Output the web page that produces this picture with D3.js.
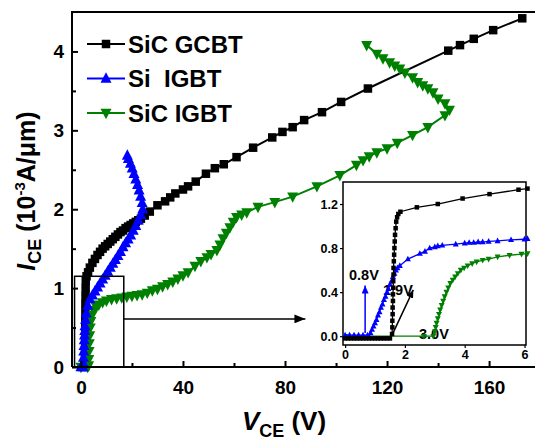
<!DOCTYPE html>
<html><head><meta charset="utf-8">
<script src="https://cdn.jsdelivr.net/npm/d3@7"></script>
<style>
html,body{margin:0;padding:0;background:#fff;}
svg{display:block;font-family:"Liberation Sans",Arial,sans-serif;font-weight:bold;}
</style></head>
<body><svg id="c" width="535" height="441"></svg>
<script>
// ---------- data (main plot) ----------
const gcbtV = [1.6,1.6,1.6,1.65,1.7,1.7,1.7,1.75,1.75,1.8,1.85,1.9,2.2,2.8,3.5,4.5,5.5,6.5,7.5,8.5,9.5,10.5,11.5,12.5,13.5,14.5,15.5,16.5,17.5,18.5,19.5,20.5,21.5,22.5,23.5,25,27,30,33,35,37,40,42,45,49,52.5,56,61,67.5,75,79,83,87.5,94.5,102,112.5,144,148.6,154,161.6,173];
const gcbtI = [0,0.1,0.2,0.3,0.4,0.5,0.6,0.7,0.8,0.9,1.0,1.1,1.15,1.2,1.26,1.32,1.37,1.42,1.46,1.5,1.53,1.56,1.59,1.62,1.65,1.68,1.71,1.73,1.76,1.78,1.8,1.82,1.84,1.86,1.88,1.92,1.97,2.05,2.1,2.15,2.2,2.25,2.29,2.35,2.45,2.52,2.57,2.66,2.78,2.91,2.98,3.04,3.13,3.23,3.36,3.53,4.01,4.08,4.16,4.27,4.42];

const siV = [0,0.8,0.9,1.0,1.1,1.2,1.3,1.4,1.5,1.6,1.8,2.1,2.7,3.5,4.5,5.5,6.5,7.5,8.5,9.5,10.5,11.5,12.5,13.5,14.5,15.5,16.5,17.5,18.5,19.5,20.5,21.5,22.5,23.5,24.2,24,23.4,22.8,22.2,21.5,20.8,20.1,19.4,18.6,18.2];
const siI = [0,0,0.05,0.12,0.2,0.27,0.34,0.4,0.46,0.52,0.6,0.68,0.78,0.86,0.91,0.96,1.01,1.06,1.11,1.16,1.21,1.26,1.31,1.36,1.41,1.46,1.52,1.57,1.62,1.67,1.73,1.79,1.86,1.93,2.0,2.08,2.16,2.24,2.31,2.38,2.45,2.52,2.58,2.64,2.68];

const sicV = [0,2.6,3.0,3.1,3.2,3.3,3.45,3.65,3.9,4.4,5,6,7,8.5,10,12,14,16,18,20,22,24,26,28,30,32,34,36,38,40,42,44.7,47,49.4,51,53.3,54.5,55.7,57,58.4,59.7,61,63,65,69.4,76,83,92.5,101.5,108,110.6,113,116,120,124,130,136,142.7,144.5,142.7,140,138,136,134,132,130,127,125,123,121,118.4,116,112];
const sicI = [0,0,0.02,0.1,0.2,0.3,0.4,0.5,0.58,0.66,0.72,0.76,0.79,0.82,0.84,0.86,0.87,0.88,0.89,0.9,0.91,0.92,0.94,0.97,0.99,1.02,1.05,1.08,1.12,1.16,1.2,1.28,1.34,1.39,1.43,1.48,1.55,1.63,1.7,1.77,1.84,1.9,1.93,1.96,2.03,2.09,2.16,2.29,2.43,2.56,2.62,2.67,2.72,2.77,2.84,2.94,3.04,3.19,3.26,3.34,3.4,3.48,3.53,3.57,3.61,3.67,3.73,3.78,3.82,3.86,3.91,3.97,4.08];

// ---------- data (inset) ----------
const inGcbtV = [0,0.1,0.2,0.3,0.4,0.5,0.6,0.7,0.8,0.9,1.0,1.1,1.2,1.3,1.4,1.5,1.57,1.58,1.58,1.59,1.59,1.6,1.6,1.61,1.61,1.62,1.62,1.63,1.64,1.65,1.66,1.67,1.69,1.71,1.74,1.78,1.85,2.4,3.1,3.93,4.83,5.8,6.1];
const inGcbtI = [-0.02,-0.02,-0.02,-0.02,-0.02,-0.02,-0.02,-0.02,-0.02,-0.02,-0.02,-0.02,-0.02,-0.02,-0.02,-0.02,0.02,0.08,0.14,0.2,0.26,0.32,0.38,0.44,0.5,0.56,0.62,0.68,0.74,0.8,0.86,0.92,0.98,1.04,1.08,1.11,1.13,1.17,1.2,1.25,1.29,1.33,1.34];

const inSiV = [0,0.15,0.3,0.45,0.6,0.75,0.8,0.85,0.9,0.95,1.0,1.05,1.1,1.15,1.2,1.25,1.3,1.35,1.4,1.45,1.5,1.55,1.6,1.65,1.7,1.75,1.83,2.1,2.5,2.67,2.83,3.0,3.1,3.25,3.7,4.0,4.15,4.3,4.45,4.6,4.8,5.1,5.55,6.0,6.1];
const inSiI = [0.01,0.01,0.01,0.01,0.01,0.01,-0.01,0.03,0.06,0.09,0.12,0.15,0.19,0.22,0.26,0.29,0.33,0.36,0.4,0.43,0.47,0.5,0.54,0.57,0.6,0.62,0.64,0.7,0.75,0.77,0.8,0.81,0.82,0.825,0.835,0.845,0.85,0.85,0.855,0.855,0.86,0.865,0.875,0.88,0.885];

const inSicV = [0,2.63,2.95,3.0,3.03,3.06,3.1,3.14,3.18,3.23,3.28,3.33,3.39,3.45,3.52,3.6,3.68,3.77,3.87,3.98,4.1,4.25,4.4,4.6,4.8,5.1,5.5,5.9,6.1];
const inSicI = [0,0,0,0.04,0.08,0.12,0.16,0.2,0.24,0.28,0.32,0.36,0.4,0.44,0.48,0.51,0.54,0.57,0.6,0.62,0.64,0.66,0.675,0.69,0.7,0.72,0.735,0.745,0.75];

// ---------- ticks / labels ----------
const xTicks = [0,40,80,120,160];
const xMinor = [20,60,100,140];
const yTicks = [0,1,2,3,4];
const yMinor = [0.5,1.5,2.5,3.5];
const inXTicks = [0,2,4,6];
const inYTicks = [0.0,0.4,0.8,1.2];
const seriesNames = ["SiC GCBT","Si\u00a0\u00a0IGBT","SiC IGBT"];
const colors = ["#000000","#0000ff","#008000"];

const svg = d3.select("#c");
const zip = (a,b)=>a.map((v,i)=>[v,b[i]]);

const x = d3.scaleLinear().domain([-3.5,178]).range([72,535]);
const y = d3.scaleLinear().domain([0,4.5]).range([367,12]);

function markerPath(type, s){
  if(type==="sq") return `M${-s/2},${-s/2}h${s}v${s}h${-s}Z`;
  const h = s*0.95, w = s/2;
  if(type==="up") return `M0,${-h*0.6}L${w},${h*0.4}L${-w},${h*0.4}Z`;
  return `M0,${h*0.6}L${w},${-h*0.4}L${-w},${-h*0.4}Z`;
}
function drawSeries(g, xs, ys, pts, color, type, lw, ms){
  g.append("path").datum(pts)
    .attr("d", d3.line().x(d=>xs(d[0])).y(d=>ys(d[1])))
    .attr("fill","none").attr("stroke",color).attr("stroke-width",lw);
  g.selectAll(null).data(pts).enter().append("path")
    .attr("transform",d=>`translate(${xs(d[0])},${ys(d[1])})`)
    .attr("d",markerPath(type,ms)).attr("fill",color);
}

// defs for arrows
const defs = svg.append("defs");
function arrowDef(id,color,w,h){
  defs.append("marker").attr("id",id).attr("viewBox",`0 0 ${w} ${h}`)
    .attr("refX",w).attr("refY",h/2).attr("markerWidth",w).attr("markerHeight",h)
    .attr("markerUnits","userSpaceOnUse").attr("orient","auto")
    .append("path").attr("d",`M0,0L${w},${h/2}L0,${h}Z`).attr("fill",color);
}
arrowDef("ahBlack",colors[0],11,9);
arrowDef("ahSmallBlack",colors[0],8,7);
arrowDef("ahSmallBlue",colors[1],8,7);

// ---------- main series ----------
const gm = svg.append("g");
drawSeries(gm,x,y,zip(gcbtV,gcbtI),colors[0],"sq",2,8.5);
drawSeries(gm,x,y,zip(sicV,sicI),colors[2],"down",2,11);
drawSeries(gm,x,y,zip(siV,siI),colors[1],"up",2,11);

// axes
const ax = svg.append("g").attr("transform","translate(0,367)");
ax.call(d3.axisBottom(x).tickValues(xTicks).tickSize(-6).tickSizeOuter(0).tickPadding(14));
ax.append("g").call(d3.axisBottom(x).tickValues(xMinor).tickSize(-4).tickFormat(""));
ax.selectAll(".domain").attr("stroke-width",2).attr("d","M72,0H535");
const ay = svg.append("g").attr("transform","translate(72,0)");
ay.call(d3.axisLeft(y).tickValues(yTicks).tickSize(-6).tickSizeOuter(0).tickPadding(8).tickFormat(d3.format("d")));
ay.append("g").call(d3.axisLeft(y).tickValues(yMinor).tickSize(-4).tickFormat(""));
ay.selectAll(".domain").attr("stroke-width",2).attr("d","M0,12V367");
svg.selectAll(".tick line").attr("stroke-width",2);
ax.selectAll(".tick text").attr("font-size",19).attr("font-family","Liberation Sans, Arial, sans-serif").attr("font-weight","bold").attr("fill","#000");
ay.selectAll(".tick text").attr("font-size",19).attr("font-family","Liberation Sans, Arial, sans-serif").attr("font-weight","bold").attr("fill","#000");
svg.append("line").attr("x1",71).attr("x2",535).attr("y1",12).attr("y2",12).attr("stroke","#000").attr("stroke-width",2);

// axis titles
const xt = svg.append("text").attr("x",284).attr("y",430).attr("text-anchor","middle").attr("font-size",26);
xt.append("tspan").attr("font-style","italic").text("V");
xt.append("tspan").attr("font-size",18).attr("dy",7).text("CE");
xt.append("tspan").attr("dy",-7).text(" (V)");
const yt = svg.append("text").attr("transform","translate(35,191) rotate(-90)").attr("text-anchor","middle").attr("font-size",25);
yt.append("tspan").attr("font-style","italic").text("I");
yt.append("tspan").attr("font-size",18).attr("dy",6).text("CE");
yt.append("tspan").attr("dy",-6).text(" (10");
yt.append("tspan").attr("font-size",15).attr("dy",-10).text("-3");
yt.append("tspan").attr("dy",10).text("A/\u03bcm)");

// legend
const legTypes = ["sq","up","down"];
const legSizes = [8.5,11,11];
seriesNames.forEach((n,i)=>{
  const yy = 44 + i*34.5;
  svg.append("line").attr("x1",87).attr("x2",125).attr("y1",yy).attr("y2",yy).attr("stroke",colors[i]).attr("stroke-width",2);
  svg.append("path").attr("transform",`translate(106,${yy})`).attr("d",markerPath(legTypes[i],legSizes[i])).attr("fill",colors[i]);
  svg.append("text").attr("x",128).attr("y",yy+8.5).attr("font-size",24).attr("xml:space","preserve").text(n);
});

// zoom box and arrow
svg.append("rect").attr("x",x(-2.5)).attr("y",y(1.15)).attr("width",x(16.8)-x(-2.5)).attr("height",y(0)-y(1.15))
  .attr("fill","none").attr("stroke","#000").attr("stroke-width",1.5);
svg.append("line").attr("x1",x(16.8)).attr("x2",x(88)).attr("y1",y(0.61)).attr("y2",y(0.61))
  .attr("stroke","#000").attr("stroke-width",1.5).attr("marker-end","url(#ahBlack)");

// ---------- inset ----------
const xi = d3.scaleLinear().domain([-0.07,6.05]).range([343,526]);
const yi = d3.scaleLinear().domain([-0.08,1.4]).range([345,182]);
svg.append("rect").attr("x",343).attr("y",182).attr("width",183).attr("height",163)
  .attr("fill","#fff").attr("stroke","#000").attr("stroke-width",1.5);
const gi = svg.append("g");
const ixa = gi.append("g").attr("transform","translate(0,345)")
  .call(d3.axisBottom(xi).tickValues(inXTicks).tickSize(3).tickSizeOuter(0).tickPadding(2).tickFormat(d3.format("d")));
const iya = gi.append("g").attr("transform","translate(343,0)")
  .call(d3.axisLeft(yi).tickValues(inYTicks).tickSize(3).tickSizeOuter(0).tickPadding(2).tickFormat(d3.format(".1f")));
gi.selectAll(".domain").remove();
gi.selectAll(".tick text").attr("font-size",12.5).attr("font-family","Liberation Sans, Arial, sans-serif").attr("font-weight","bold").attr("fill","#000");
gi.selectAll(".tick line").attr("stroke-width",1.2);

// inset annotations (behind data)
svg.append("text").attr("x",349).attr("y",280).attr("font-size",14.5).text("0.8V");
svg.append("text").attr("x",383).attr("y",295).attr("font-size",14.5).text("1.9V");
svg.append("text").attr("x",419).attr("y",339).attr("font-size",14.5).text("3.0V");

const gd = svg.append("g");
drawSeries(gd,xi,yi,zip(inSicV,inSicI),colors[2],"down",1.3,6);
drawSeries(gd,xi,yi,zip(inSiV,inSiI),colors[1],"up",1.3,6);
drawSeries(gd,xi,yi,zip(inGcbtV,inGcbtI),colors[0],"sq",1.3,4.5);

svg.append("line").attr("x1",xi(0.67)).attr("x2",xi(0.67)).attr("y1",yi(0.03)).attr("y2",yi(0.46))
  .attr("stroke",colors[1]).attr("stroke-width",1.5).attr("marker-end","url(#ahSmallBlue)");
svg.append("line").attr("x1",xi(1.57)).attr("x2",xi(2.28)).attr("y1",yi(0.01)).attr("y2",yi(0.42))
  .attr("stroke",colors[0]).attr("stroke-width",1.5).attr("marker-end","url(#ahSmallBlack)");
</script></body></html>
